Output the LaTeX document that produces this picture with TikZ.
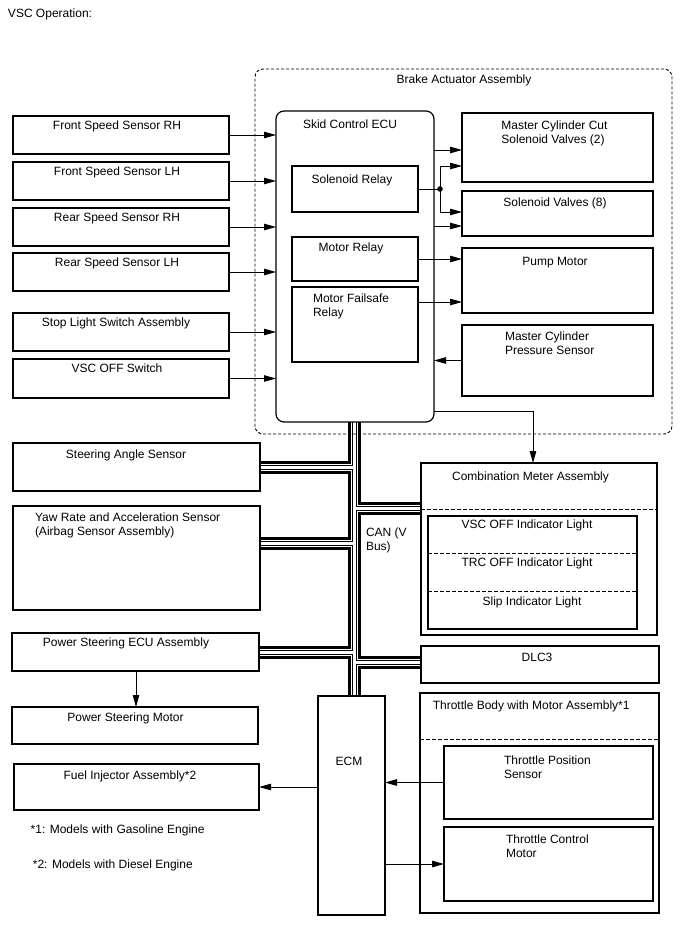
\documentclass[tikz,border=0pt]{standalone}
\usepackage{fontspec}
\setmainfont{Liberation Sans}
\usetikzlibrary{arrows.meta}
\pgfdeclarelayer{back}
\pgfdeclarelayer{bus}
\pgfsetlayers{back,bus,main}
\tikzset{
  box/.style={draw, line width=1.2pt, inner sep=0pt, outer sep=0pt, anchor=north west},
  lbl/.style={inner sep=0pt, outer sep=0pt, font=\fontsize{12}{14}\selectfont, anchor=base},
  lbll/.style={lbl, anchor=base west},
  arr/.style={draw, line width=0.9pt, -{Triangle[length=12pt,width=6.5pt]}},
  conn/.style={draw, line width=0.9pt},
  dshA/.style={line width=0.9pt, dash pattern=on 3pt off 2pt},
  dshB/.style={draw, line width=0.9pt, dash pattern=on 4pt off 2pt},
}
\newcommand\bx[6][]{\node[box,#1,minimum width={(#5-#3)*1pt},minimum height={(#6-#4)*1pt}] (#2) at (#3,#4) {};}
\begin{document}
\begin{tikzpicture}[x=1pt,y=-1pt]
\useasboundingbox (0,0) rectangle (688,949);

\node[lbll] (title) at (8,18) {VSC Operation:};

% Brake actuator assembly (dashed)
\bx[dshA, rounded corners=8pt]{baa}{255}{69}{672}{434}
\node[lbl] (baat) at (464,84) {Brake Actuator Assembly};

% left sensors
\bx{fsr}{13}{116}{229}{154}
\bx{fsl}{13}{162}{229}{200}
\bx{rsr}{13}{208}{229}{246}
\bx{rsl}{13}{253}{229}{291}
\bx{sls}{13}{313}{229}{351}
\bx{vsc}{13}{359}{229}{398}
\node[lbl] (fsrt) at (117,129.6) {Front Speed Sensor RH};
\node[lbl] (fslt) at (117,175.6) {Front Speed Sensor LH};
\node[lbl] (rsrt) at (117,221.6) {Rear Speed Sensor RH};
\node[lbl] (rslt) at (117,266.6) {Rear Speed Sensor LH};
\node[lbl] (slst) at (116,326.6) {Stop Light Switch Assembly};
\node[lbl] (vsct) at (117,372.6) {VSC OFF Switch};

% Skid control ECU
\bx[rounded corners=8pt]{ecu}{276}{111}{434}{422}
\node[lbll] (ecut) at (303,128.6) {Skid Control ECU};
\bx{sr}{292}{166}{418}{212}
\bx{mr}{292}{237}{418}{281}
\bx{mfr}{292}{287}{418}{362}
\node[lbl] (srt) at (352,183.6) {Solenoid Relay};
\node[lbl] (mrt) at (351,251.7) {Motor Relay};
\node[lbll] (mfrt1) at (313,302.6) {Motor Failsafe};
\node[lbll] (mfrt2) at (313,316.6) {Relay};

% right actuator boxes
\bx{mcc}{462}{113}{653}{182}
\bx{sv}{462}{191}{653}{236}
\bx{pm}{462}{248}{653}{313}
\bx{mcp}{462}{325}{653}{396}
\node[lbl] (mcct1) at (554.5,129.6) {Master Cylinder Cut};
\node[lbl] (mcct2) at (553,143.6) {Solenoid Valves (2)};
\node[lbl] (svt) at (555,206.6) {Solenoid Valves (8)};
\node[lbl] (pmt) at (555,265.7) {Pump Motor};
\node[lbll] (mcpt1) at (505,340.6) {Master Cylinder};
\node[lbll] (mcpt2) at (505,354.6) {Pressure Sensor};

% CAN side boxes
\bx{sas}{13}{443}{260}{491}
\bx{yaw}{13}{506}{260}{610}
\bx{psecu}{12}{633}{259}{671}
\node[lbl] (sast) at (126,458) {Steering Angle Sensor};
\node[lbll] (yawt1) at (35,521.6) {Yaw Rate and Acceleration Sensor};
\node[lbll] (yawt2) at (35,535.6) {(Airbag Sensor Assembly)};
\node[lbl] (psecut) at (126,646.3) {Power Steering ECU Assembly};

\bx{cm}{421}{463}{657}{635}
\node[lbl] (cmt) at (530.5,480.3) {Combination Meter Assembly};
\draw[dshB] (cm.west |- 0,509) -- (cm.east |- 0,509);
\bx{cmi}{428}{516}{637}{629}
\draw[dshB] (cmi.west |- 0,553) -- (cmi.east |- 0,553);
\draw[dshB] (cmi.west |- 0,591) -- (cmi.east |- 0,591);
\node[lbl] (l1t) at (527,528.6) {VSC OFF Indicator Light};
\node[lbl] (l2t) at (527,566.3) {TRC OFF Indicator Light};
\node[lbl] (l3t) at (532,605.3) {Slip Indicator Light};

\bx{dlc}{421}{646}{659}{683}
\node[lbl] (dlct) at (537,661.3) {DLC3};

\node[lbll] (cant1) at (366,536.6) {CAN (V};
\node[lbll] (cant2) at (366,550.6) {Bus)};

% bottom
\bx{psm}{12}{707}{258}{744}
\node[lbl] (psmt) at (125.5,721) {Power Steering Motor};
\bx{fia}{14}{764}{259}{810}
\node[lbl] (fiat) at (130,779.3) {Fuel Injector Assembly*2};
\node[lbll] (fn1) at (30.7,833) {*1: Models with Gasoline Engine};
\node[lbll] (fn2) at (32.9,868.6) {*2: Models with Diesel Engine};

\bx{ecm}{318}{696}{385}{915}
\node[lbl] (ecmt) at (349,765.3) {ECM};

\bx{tb}{420}{693}{659}{913}
\node[lbll] (tbt) at (432.8,709.3) {Throttle Body with Motor Assembly*1};
\draw[dshB] (tb.west |- 0,739) -- (tb.east |- 0,739);
\bx{tps}{444}{746}{653}{819}
\node[lbll] (tpst1) at (504,764.3) {Throttle Position};
\node[lbll] (tpst2) at (504,778.3) {Sensor};
\bx{tcm}{444}{827}{653}{901}
\node[lbll] (tcmt1) at (506,843) {Throttle Control};
\node[lbll] (tcmt2) at (506,857) {Motor};

% CAN bus (layered strokes)
\coordinate (trk) at (354,0);
\begin{pgfonlayer}{bus}
\foreach \w/\c in {13/black,7/white,5/black,3/white}{
  \draw[line width=\w pt, \c]
    (ecu.south -| trk) -- (ecm.north -| trk)
    (sas.east) -- (sas.east -| trk)
    (yaw.east |- 0,543) -- (trk |- 0,543)
    (psecu.east) -- (psecu.east -| trk)
    (cm.west |- 0,508) -- (trk |- 0,508)
    (dlc.west |- 0,662) -- (trk |- 0,662);
}
\end{pgfonlayer}

% left arrows
\draw[arr] (fsr.east) -- (fsr.east -| ecu.west);
\draw[arr] (fsl.east) -- (fsl.east -| ecu.west);
\draw[arr] (rsr.east) -- (rsr.east -| ecu.west);
\draw[arr] (rsl.east) -- (rsl.east -| ecu.west);
\draw[arr] (sls.east) -- (sls.east -| ecu.west);
\draw[arr] (vsc.east) -- (vsc.east -| ecu.west);

% right arrows
\draw[arr] (ecu.east |- 0,150) -- (mcc.west |- 0,150);
\coordinate (jd) at (440,189);
\draw[conn] (sr.east) -- (jd);
\fill (jd) circle (2.8pt);
\draw[arr] (jd) |- (mcc.west |- 0,166);
\draw[arr] (jd) |- (sv.west |- 0,212);
\draw[arr] (ecu.east |- 0,226) -- (sv.west |- 0,226);
\draw[arr] (mr.east) -- (mr.east -| pm.west);
\draw[arr] (mfr.east |- 0,302) -- (pm.west |- 0,302);
\draw[arr] (mcp.west) -- (mcp.west -| ecu.east);
\draw[arr] (ecu.east |- 0,411) -| (cm.north -| 533,0);

% bottom arrows
\draw[arr] (psecu.south -| 136,0) -- (psm.north -| 136,0);
\draw[arr] (ecm.west |- fia.east) -- (fia.east);
\draw[arr] (tps.west) -- (tps.west -| ecm.east);
\draw[arr] (ecm.east |- tcm.west) -- (tcm.west);
\end{tikzpicture}
\end{document}
